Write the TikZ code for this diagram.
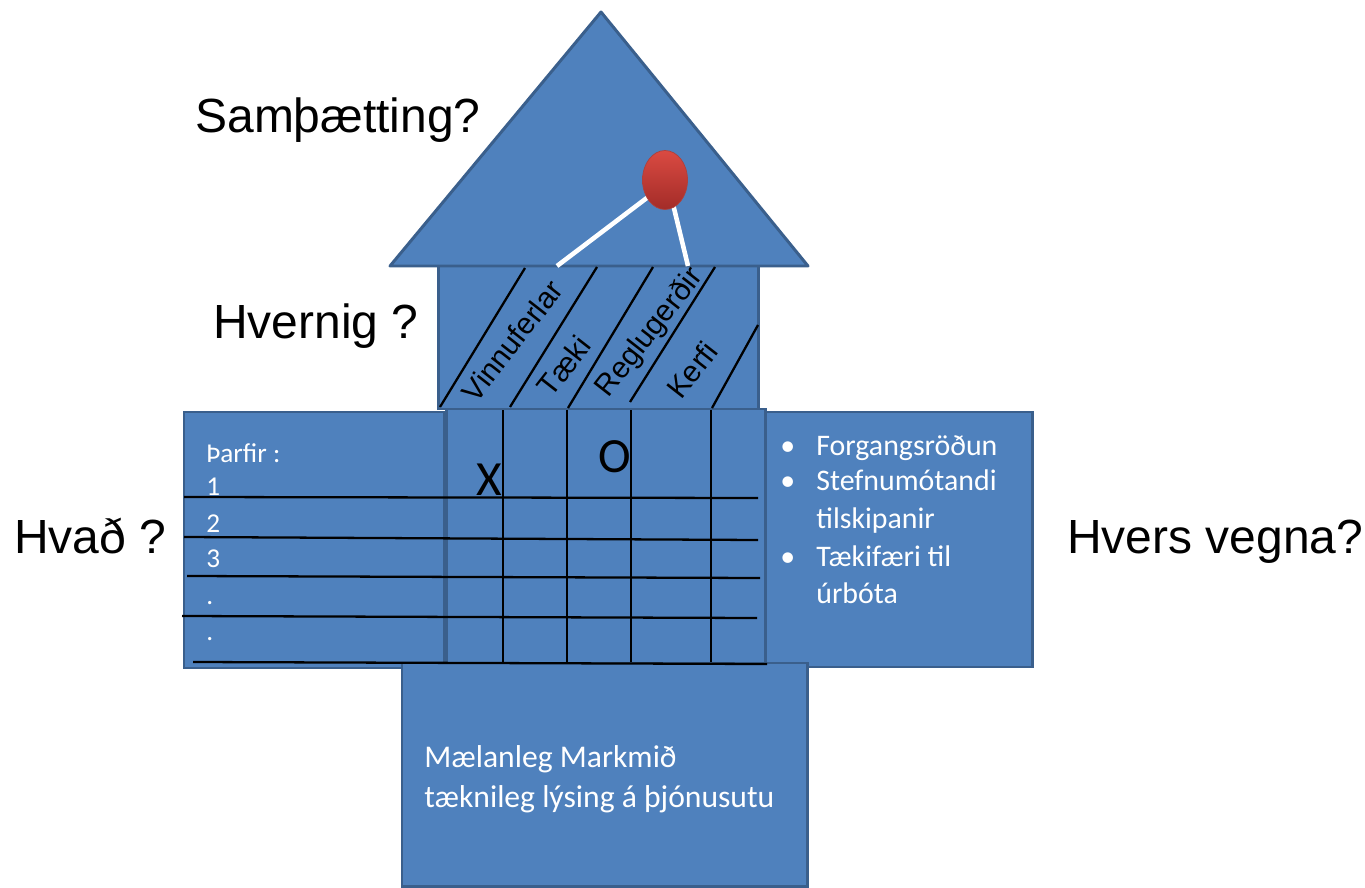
\documentclass[tikz,border=0pt]{standalone}
\usepackage{fontspec}
\setmainfont{Liberation Sans}
\newfontfamily\calfont{Carlito}
\usetikzlibrary{shapes.geometric}
\definecolor{boxblue}{HTML}{4F81BD}
\definecolor{boxedge}{HTML}{3A5F8C}
\definecolor{pintop}{HTML}{DA4A42}
\definecolor{pinbot}{HTML}{A32C28}
\tikzset{
	box/.style={fill=boxblue,draw=boxedge,line width=1.7pt},
	gridline/.style={black,line width=1.3pt},
	stick/.style={white,line width=2.6pt},
	question/.style={font=\fontsize{27.3}{31}\selectfont,inner sep=0pt,anchor=base west},
	slanted/.style={font=\fontsize{17}{20}\selectfont,inner sep=0pt,rotate=52},
	cellmark/.style={font=\calfont\fontsize{28}{32}\selectfont,inner sep=0pt},
	listtext/.style={font=\calfont\fontsize{15.5}{18}\selectfont,white,inner sep=0pt,anchor=base west},
	bullettext/.style={font=\calfont\fontsize{17}{20}\selectfont,white,inner sep=0pt,anchor=base west},
	goaltext/.style={font=\calfont\fontsize{18}{21}\selectfont,white,inner sep=0pt,anchor=base west}
}
\begin{document}
\begin{tikzpicture}[x=0.02cm,y=-0.02cm]
			\useasboundingbox (0,0) rectangle (1365,888);
			% house
			\draw[box] (438,266) rectangle (758,409);
			\draw[box,line join=round] (390,266)--(601,12)--(808,266)--cycle;
			\draw[box] (184,412) rectangle (444,668);
			\draw[box] (446,409) rectangle (765,663);
			\draw[box] (765,412) rectangle (1032,667);
			\draw[box] (402,663) rectangle (807,886);
			% slanted columns
			\draw[gridline] (440,407)--(525,268);
			\draw[gridline] (510,407)--(597,267);
			\draw[gridline] (568,408)--(653,267);
			\draw[gridline] (630,402)--(715,267);
			\draw[gridline] (712,408)--(758,325);
			\node[slanted] at (512,341) (vinnuferlar) {Vinnuferlar};
			\node[slanted] at (564,366) (taeki) {Tæki};
			\node[slanted] at (650,333) (reglugerdir) {Reglugerðir};
			\node[slanted] at (692,370) (kerfi) {Kerfi};
			% grid
			\draw[gridline] (503,410)--(503,662);
			\draw[gridline] (567,410)--(567,662);
			\draw[gridline] (631,410)--(631,662);
			\draw[gridline] (711,410)--(711,662);
			\draw[gridline] (184,497)--(758,498);
			\draw[gridline] (184,537)--(758,540);
			\draw[gridline] (187,576)--(760,578);
			\draw[gridline] (182,616)--(757,618);
			\draw[gridline] (193,662)--(767,664);
			\node[cellmark] at (489,480) (x) {X};
			\node[cellmark] at (615,457) (o) {O};
			% pin
			\coordinate (pinA) at (652,194);
			\coordinate (pinB) at (672,200);
			\coordinate (stickA) at (557,266);
			\coordinate (stickB) at (688,266);
			\draw[stick] (pinA)--(stickA);
			\draw[stick] (pinB)--(stickB);
			\node[ellipse,minimum width=0.9cm,minimum height=1.18cm,draw=pinbot!90!white,line width=0.4pt,top color=pintop,bottom color=pinbot] at (665,180) (pin) {};
			% questions
			\node[question] at (195,133) (samthaetting) {Samþætting?};
			\node[question] at (213,338) (hvernig) {Hvernig ?};
			\node[question] at (14,553) (hvad) {Hvað ?};
			\node[question] at (1067,553) (hversvegna) {Hvers vegna?};
			% needs
			\node[listtext] at (206,462) (tharfir) {Þarfir :};
			\node[listtext] at (206,495) (n1) {1};
			\node[listtext] at (206,532) (n2) {2};
			\node[listtext] at (206,567) (n3) {3};
			\node[listtext] at (206,604) (n4) {.};
			\node[listtext] at (206,640) (n5) {.};
			% reasons
			\node[bullettext] at (780,455) (b1) {•};
			\node[bullettext] at (780,490) (b2) {•};
			\node[bullettext] at (780,566) (b3) {•};
			\node[bullettext] at (816,455) (forgang) {Forgangsröðun};
			\node[bullettext] at (816,490) (stefnu) {Stefnumótandi};
			\node[bullettext] at (816,528) (tilsk) {tilskipanir};
			\node[bullettext] at (816,566) (taekif) {Tækifæri til};
			\node[bullettext] at (816,603) (urbota) {úrbóta};
			% goals
			\node[goaltext] at (424,767) (maelanleg) {Mælanleg Markmið};
			\node[goaltext] at (424,807) (taeknileg) {tæknileg lýsing á þjónusutu};
		\end{tikzpicture}
\end{document}
